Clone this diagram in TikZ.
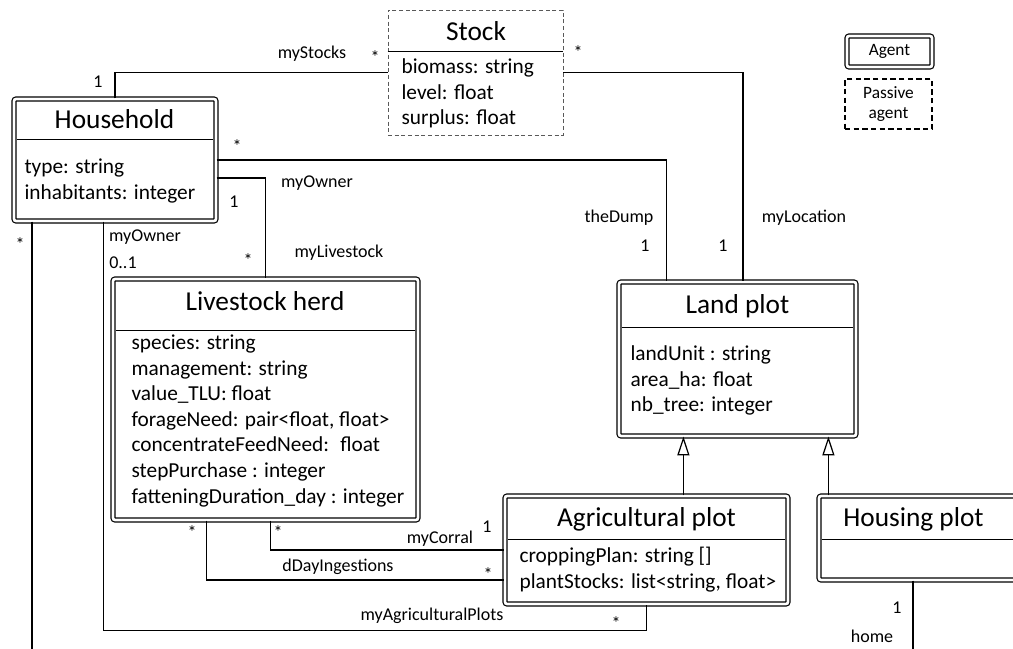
\documentclass[tikz,border=0pt]{standalone}
\usepackage{fontspec}
\setmainfont{Carlito}
\usetikzlibrary{calc,arrows.meta}
\tikzset{
every picture/.style={
line width=0.9pt
}}

\begin{document}
\begin{tikzpicture}[x=0.75pt, y=-0.75pt,
agent/.style = {rectangle, draw=black, double, line width=0.9pt, double distance=2pt, rounded corners=1.5pt, inner sep=0pt},
passive/.style = {rectangle, draw=black, dash pattern=on 4pt off 2.5pt, line width=0.8pt, inner sep=0pt},
title/.style = {font=\fontsize{20.5}{24}\selectfont, inner sep=0pt, anchor=base},
attr/.style = {font=\fontsize{16}{19.2}\selectfont, align=left, inner sep=0pt, anchor=north west},
lbl/.style = {font=\fontsize{13.5}{16}\selectfont, inner sep=0pt},
sep/.style = {line width=0.8pt, shorten <=3pt, shorten >=3pt},
gen/.style = {-{Triangle[open, length=14pt, width=9pt]}}]
\useasboundingbox (0,0) rectangle (1013,649);
\clip (0,0) rectangle (1013,649);

% classes
\node [agent, minimum width=151.5pt, minimum height=91.5pt] at (115,160) (hh) {};
\node [passive, draw=black!65, line width=0.6pt, dash pattern=on 3pt off 2pt, minimum width=131.25pt, minimum height=93.75pt] at (475.5,72.5) (stock) {};
\node [agent, minimum width=228.75pt, minimum height=180.75pt] at (265.5,399.5) (lh) {};
\node [agent, minimum width=177.75pt, minimum height=115.5pt] at (737.5,359) (land) {};
\node [agent, minimum width=212.25pt, minimum height=81pt] at (646.5,550) (ag) {};
\node [agent, minimum width=157.5pt, minimum height=63pt] at (924,538) (hp) {};

\draw [sep] (hh.west |- 0,139.3) -- (hh.east |- 0,139.3);
\draw [line width=0.8pt] (stock.west |- 0,51.7) -- (stock.east |- 0,51.7);
\draw [sep] (lh.west |- 0,330.7) -- (lh.east |- 0,330.7);
\draw [sep] (land.west |- 0,327.3) -- (land.east |- 0,327.3);
\draw [sep] (ag.west |- 0,539.3) -- (ag.east |- 0,539.3);
\draw [sep] (hp.west |- 0,539.3) -- (hp.east |- 0,539.3);

\node [title] at (114.5,129) (hhname) {Household};
\node [title] at (476,41) (stockname) {Stock};
\node [title] at (265,310) (lhname) {Livestock herd};
\node [title] at (737.5,313) (landname) {Land plot};
\node [title] at (646.5,526) (agname) {Agricultural plot};
\node [title] at (913.5,526) (hpname) {Housing plot};

\node [attr] at (24,155) (hhattr) {\strut type: string\\inhabitants: integer};
\node [attr] at (401,55) (stockattr) {\strut biomass: string\\level: float\\surplus: float};
\node [attr] at (131,331) (lhattr) {\strut species: string\\management: string\\value\_TLU: float\\forageNeed: pair<float, float>\\concentrateFeedNeed:~ float\\stepPurchase : integer\\fatteningDuration\_day : integer};
\node [attr] at (630,342) (landattr) {\strut landUnit : string\\area\_ha: float\\nb\_tree: integer};
\node [attr] at (519,544) (agattr) {\strut croppingPlan: string []\\plantStocks: list<string, float>};

% legend
\node [agent, minimum width=63.75pt, minimum height=23.25pt, font=\fontsize{13}{15}\selectfont] at (889.5,51.5) (legagent) {Agent};
\node [passive, minimum width=65.25pt, minimum height=37.5pt, align=center, font=\fontsize{13}{15}\selectfont] at (888.5,104) (legpassive) {Passive\\agent};

% associations
\coordinate (hhend) at (32,660);
\coordinate (homeend) at (913,660);
\coordinate (agtop) at ($(ag.north west)+(179,0)$);
\coordinate (hptop) at ($(hp.north west)+(10,0)$);

\draw (hh.north) |- (stock.west);
\draw (stock.east) -| ($(land.north)+(5.5,0)$);
\draw (hh.east) -| ($(land.north west)+(48,0)$);
\draw ($(hh.east)+(0,18)$) -| (lh.north);
\draw ($(hh.south west)+(90,0)$) |- ($(ag.south)+(0,26)$) -- (ag.south);
\draw (hhend |- hh.south) -- (hhend);
\draw ($(lh.south west)+(158,0)$) |- (ag.west);
\draw ($(lh.south west)+(94,0)$) |- ($(ag.west)+(0,30)$);
\draw [gen] (agtop) -- (agtop |- land.south);
\draw [gen] (hptop) -- (hptop |- land.south);
\draw (homeend |- hp.south) -- (homeend);

% role names and multiplicities
\node [lbl] at (98,82) (m1) {1};
\node [lbl] at (312,54) (mystocks) {myStocks};
\node [lbl] at (375,57) (m2) {*};
\node [lbl] at (578,52) (m3) {*};
\node [lbl] at (804,218) (mylocation) {myLocation};
\node [lbl] at (723,246) (m4) {1};
\node [lbl] at (619,218) (thedump) {theDump};
\node [lbl] at (645,246) (m5) {1};
\node [lbl] at (237,146) (m6) {*};
\node [lbl] at (317,183) (myowner) {myOwner};
\node [lbl] at (234,202) (m7) {1};
\node [lbl] at (248,260) (m8) {*};
\node [lbl] at (339,253) (mylivestock) {myLivestock};
\node [lbl] at (145,237) (myowner2) {myOwner};
\node [lbl] at (123,263) (m9) {0..1};
\node [lbl] at (20,244) (m10) {*};
\node [lbl] at (192,532) (m11) {*};
\node [lbl] at (278,532) (m12) {*};
\node [lbl] at (440,539) (mycorral) {myCorral};
\node [lbl] at (487,527) (m13) {1};
\node [lbl] at (338,567) (ddayingestions) {dDayIngestions};
\node [lbl] at (488,574) (m14) {*};
\node [lbl] at (432,616) (myagriplots) {myAgriculturalPlots};
\node [lbl] at (616,623) (m15) {*};
\node [lbl] at (897,608) (m16) {1};
\node [lbl] at (872,636) (home) {home};

\end{tikzpicture}
\end{document}
